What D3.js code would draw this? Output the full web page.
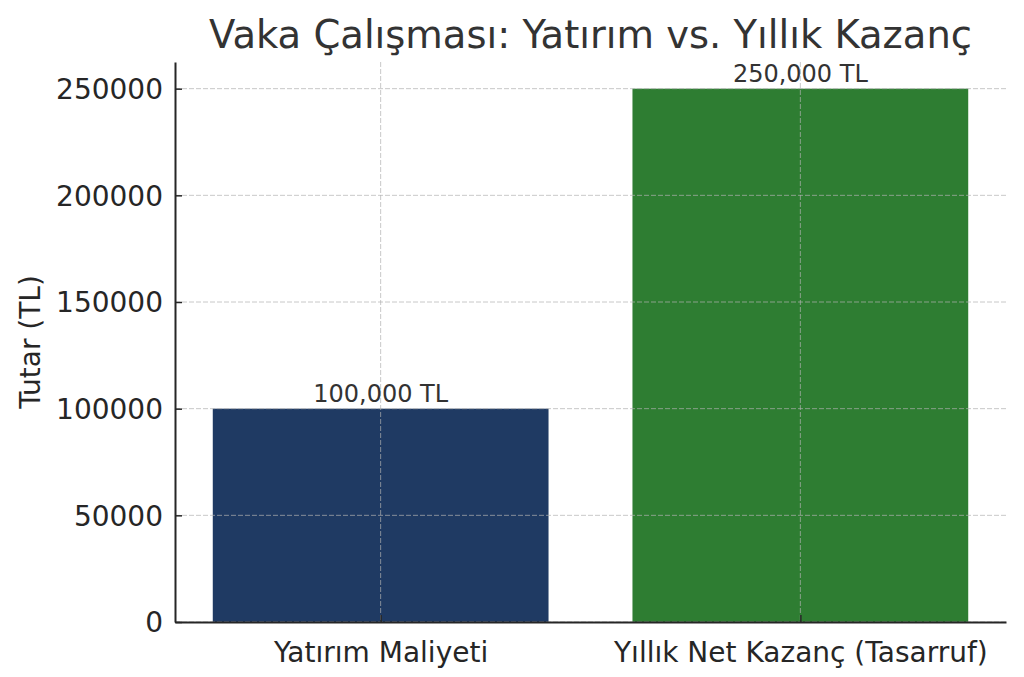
<!DOCTYPE html>
<html>
<head>
<meta charset="utf-8">
<script src="https://cdn.jsdelivr.net/npm/d3@7"></script>
<style>
  body { margin: 0; background: #fff; }
  svg { font-family: "DejaVu Sans", sans-serif; }
</style>
</head>
<body>
<div id="chart"></div>
<script>
// chart data
var categories = ["Yatırım Maliyeti", "Yıllık Net Kazanç (Tasarruf)"];
var values = [100000, 250000];
var valueLabels = ["100,000 TL", "250,000 TL"];
var barColors = ["#1f3a63", "#2e7d32"];
var yTicks = [0, 50000, 100000, 150000, 200000, 250000];

var W = 1024, H = 677;
var mLeft = 175, mRight = 1006, mTop = 62, mBottom = 622;

var svg = d3.select("#chart").append("svg")
  .attr("width", W)
  .attr("height", H);

// x in category units, matplotlib style margins
var x = d3.scaleLinear().domain([-0.49, 1.49]).range([mLeft, mRight]);
var y = d3.scaleLinear().domain([0, 262500]).range([mBottom, mTop]);
var bw = 0.8;

// bars
svg.selectAll("rect.bar")
  .data(values)
  .enter()
  .append("rect")
  .attr("class", "bar")
  .attr("x", function(d, i) { return x(i - bw / 2); })
  .attr("width", function(d, i) { return x(i + bw / 2) - x(i - bw / 2); })
  .attr("y", function(d) { return y(d); })
  .attr("height", function(d) { return y(0) - y(d); })
  .attr("fill", function(d, i) { return barColors[i]; });

// grid (on top of bars)
svg.selectAll("line.hgrid")
  .data(yTicks)
  .enter()
  .append("line")
  .attr("x1", mLeft).attr("x2", mRight)
  .attr("y1", function(d) { return y(d); })
  .attr("y2", function(d) { return y(d); })
  .attr("stroke", "#b0b0b0")
  .attr("stroke-opacity", 0.7)
  .attr("stroke-width", 1)
  .attr("stroke-dasharray", "5,2");

svg.selectAll("line.vgrid")
  .data(categories)
  .enter()
  .append("line")
  .attr("x1", function(d, i) { return x(i); })
  .attr("x2", function(d, i) { return x(i); })
  .attr("y1", mTop).attr("y2", mBottom)
  .attr("stroke", "#b0b0b0")
  .attr("stroke-opacity", 0.7)
  .attr("stroke-width", 1)
  .attr("stroke-dasharray", "5,2");

// axes
var yAxis = d3.axisLeft(y).tickValues(yTicks).tickFormat(d3.format("d"))
  .tickSizeInner(-7).tickSizeOuter(0).tickPadding(12);
var gy = svg.append("g").attr("transform", "translate(" + mLeft + ",0)").call(yAxis);

var xAxis = d3.axisBottom(x).tickValues([0, 1]).tickFormat(function(d) { return categories[d]; })
  .tickSizeInner(-7).tickSizeOuter(0).tickPadding(16);
var gx = svg.append("g").attr("transform", "translate(0," + mBottom + ")").call(xAxis);

[gy, gx].forEach(function(g) {
  g.select(".domain").attr("stroke", "#262626").attr("stroke-width", 2);
  g.selectAll(".tick line").attr("stroke", "#262626").attr("stroke-width", 1.5);
  g.selectAll(".tick text").attr("fill", "#262626").style("font-size", "28px")
    .style("font-family", "DejaVu Sans, sans-serif");
});
gy.selectAll(".tick text").attr("dy", "0.35em");
gx.selectAll(".tick text").attr("dy", "0.85em");

// value labels
svg.selectAll("text.val")
  .data(values)
  .enter()
  .append("text")
  .attr("x", function(d, i) { return x(i); })
  .attr("y", function(d) { return y(d) - 7; })
  .attr("text-anchor", "middle")
  .attr("fill", "#333")
  .style("font-size", "24px")
  .text(function(d, i) { return valueLabels[i]; });

// y label
svg.append("text")
  .attr("transform", "translate(40," + ((mTop + mBottom) / 2) + ") rotate(-90)")
  .attr("text-anchor", "middle")
  .attr("fill", "#262626")
  .style("font-size", "28px")
  .text("Tutar (TL)");

// title
svg.append("text")
  .attr("x", (mLeft + mRight) / 2)
  .attr("y", 48)
  .attr("text-anchor", "middle")
  .attr("fill", "#333")
  .style("font-size", "38.5px")
  .text("Vaka Çalışması: Yatırım vs. Yıllık Kazanç");
</script>
</body>
</html>
